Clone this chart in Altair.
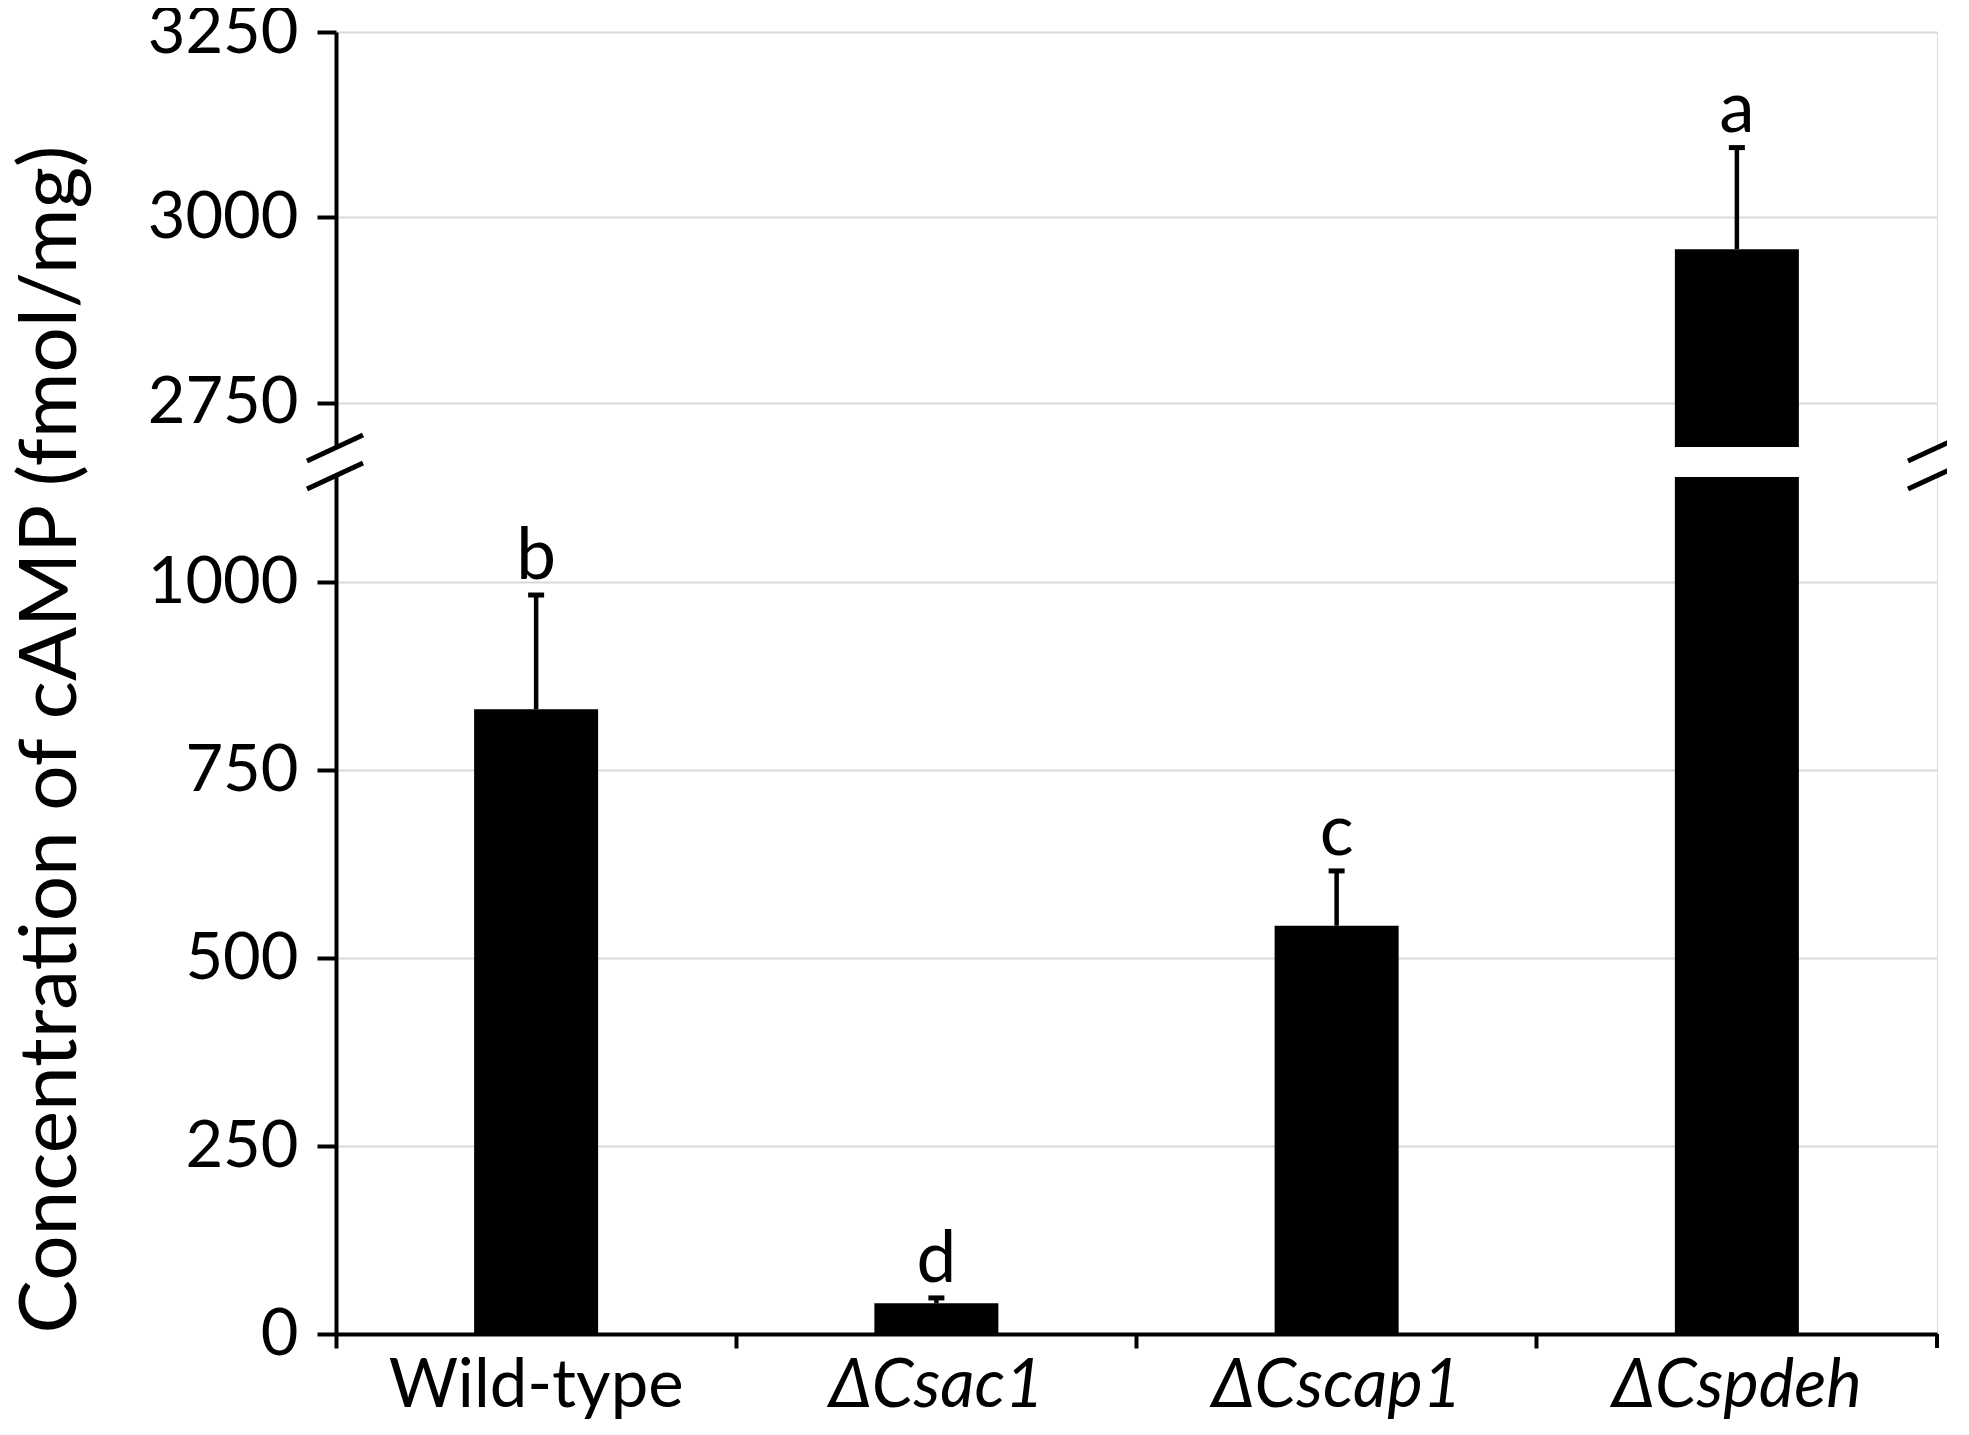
import altair as alt
import pandas as pd

categories = ["Wild-type", "ΔCsac1", "ΔCscap1", "ΔCspdeh"]
means = [831, 41, 543, 2957]
errors = [152, 7, 73, 137]
letters = ["b", "d", "c", "a"]
y_ticks = [0, 250, 500, 750, 1000, 2750, 3000, 3250]
break_low = 1140
break_high = 2690

W, H = 1601, 1302
gap_bot_px, gap_top_px = 445, 415
FONT = "Lato"
FS = 65

df = pd.DataFrame({"cat": categories, "mean": means, "err": errors, "letter": letters})
df["top"] = df["mean"] + df["err"]
df_break = df[df["mean"] > break_high].copy()
df_break["lo"] = break_low
df_break["hi"] = break_high

xenc = alt.X("cat:N", sort=categories,
             scale=alt.Scale(paddingInner=0, paddingOuter=0),
             axis=alt.Axis(title=None, labelAngle=0, labelFont=FONT, labelFontSize=67,
                           labelColor="black", tickSize=14, tickWidth=4, tickColor="black",
                           domainColor="black", domainWidth=4, bandPosition=0, labelLimit=0,
                           labelPadding=5, grid=False, zindex=1,
                           labelFontStyle={"condition": {"test": "datum.value == 'Wild-type'", "value": "normal"},
                                           "value": "italic"}))

yscale = alt.Scale(domain=[0, break_low, break_high, 3250], range=[H, gap_bot_px, gap_top_px, 0],
                   nice=False, zero=False)
yaxis = alt.Axis(values=y_ticks, format="d", labelFont=FONT, labelFontSize=FS, labelColor="black",
                 tickSize=19, tickWidth=4, tickColor="black", domainColor="black", domainWidth=4,
                 labelPadding=19, grid=True, gridColor="#d9d9d9", gridWidth=2, labelLimit=0,
                 title="Concentration of cAMP (fmol/mg)", titleFont=FONT, titleFontSize=80,
                 titleFontWeight="normal", titleColor="black", titleX=-285, titleY=707,
                 titleBaseline="middle", titleAlign="center", titleAngle=-90, titleLimit=0)

base = alt.Chart(df)
bars = base.mark_bar(color="black", size=124).encode(
    x=xenc, y=alt.Y("mean:Q", scale=yscale, axis=yaxis))
mask = alt.Chart(df_break).mark_bar(color="white", size=132).encode(
    x=alt.X("cat:N", sort=categories), y="lo:Q", y2="hi:Q")
err = base.mark_rule(color="black", strokeWidth=4.5).encode(
    x=alt.X("cat:N", sort=categories), y="mean:Q", y2="top:Q")
caps = base.mark_tick(color="black", thickness=5, size=16, opacity=1).encode(
    x=alt.X("cat:N", sort=categories), y="top:Q")
text = base.mark_text(dy=-16, baseline="alphabetic", font=FONT, fontSize=71, color="black").encode(
    x=alt.X("cat:N", sort=categories), y="top:Q", text="letter:N")

one = pd.DataFrame({"i": [0]})
decos = []
for xpos in [0, W]:
    decos.append(alt.Chart(one).mark_rule(color="white", strokeWidth=10).encode(
        x=alt.value(xpos), y=alt.value(gap_top_px + 2), y2=alt.value(gap_bot_px - 2)))
    for yc in [gap_top_px + 1, gap_bot_px - 1]:
        decos.append(alt.Chart(one).mark_rule(color="black", strokeWidth=5).encode(
            x=alt.value(xpos - 29), x2=alt.value(xpos + 27),
            y=alt.value(yc + 13), y2=alt.value(yc - 13)))
decos.append(alt.Chart(one).mark_rule(color="black", strokeWidth=4).encode(
    x=alt.value(W), y=alt.value(H), y2=alt.value(H + 14)))

chart = alt.layer(bars, mask, err, caps, text, *decos).properties(
    width=W, height=H,
    autosize=alt.AutoSizeParams(type="none"),
    padding={"left": 328, "top": 24, "right": 10, "bottom": 92},
).configure_view(stroke="black", strokeWidth=4).configure(background="white")

chart.save("out.html", embed_options={"renderer": "svg", "actions": False})
